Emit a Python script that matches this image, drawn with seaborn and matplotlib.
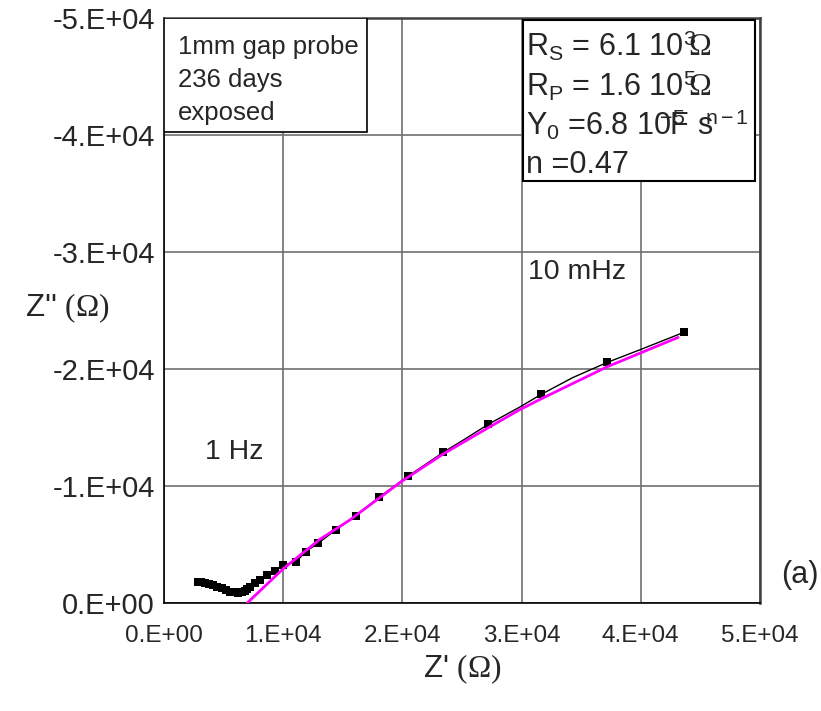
import numpy as np
import pandas as pd
import matplotlib
matplotlib.use("Agg")
import matplotlib.pyplot as plt
import seaborn as sns
from matplotlib.patches import Rectangle

# ---- data ----
zr_meas = [2870, 3100, 3430, 3750, 4130, 4480, 4830, 5200, 5530, 5900, 6220,
           6500, 6780, 7000, 7200, 7620, 8040, 8600, 9300, 9990, 11100, 11870,
           12920, 14400, 16080, 18030, 20490, 23430, 25350, 27200, 29800,
           31660, 34280, 37200, 39870, 43630]
zi_meas = [-1770, -1770, -1740, -1650, -1540, -1350, -1250, -1080, -970, -900,
           -880, -920, -1050, -1200, -1350, -1680, -1970, -2400, -2760, -3250,
           -3530, -4390, -5100, -6240, -7460, -9030, -10850, -12880, -14080,
           -15270, -16720, -17840, -19260, -20570, -21620, -23140]
marked = [1, 1, 1, 1, 1, 1, 1, 1, 1, 1, 1, 1, 1, 1, 1, 1, 1, 1, 1, 1, 1, 1,
          1, 1, 1, 1, 1, 1, 0, 1, 0, 1, 0, 1, 0, 1]

zr_fit = [6980, 8000, 9970, 13070, 15580, 19900, 23430, 27200, 29800, 31660,
          37200, 43130]
zi_fit = [0, -990, -2900, -5440, -7090, -10370, -12740, -14980, -16500,
          -17460, -20200, -22700]

x_ticks = [0, 10000, 20000, 30000, 40000, 50000]
x_ticklabels = ["0.E+00", "1.E+04", "2.E+04", "3.E+04", "4.E+04", "5.E+04"]
y_ticks = [0, -10000, -20000, -30000, -40000, -50000]
y_ticklabels = ["0.E+00", "-1.E+04", "-2.E+04", "-3.E+04", "-4.E+04", "-5.E+04"]

info_lines = [
    r"R$_\mathregular{S}$ = 6.1 10$^\mathregular{3}\!\!\mathrm{\Omega}$",
    r"R$_\mathregular{P}$ = 1.6 10$^\mathregular{5}\!\!\mathrm{\Omega}$",
    r"Y$_\mathregular{0}$ =6.8 10$\!\!\!^\mathregular{-5}\!\!\!\!$F s$\!\!^\mathregular{n-1}$",
    "n =0.47",
]
probe_lines = ["1mm gap probe", "236 days", "exposed"]

# ---- style ----
sns.set_theme(style="white")
plt.rcParams["font.family"] = ["Liberation Sans", "DejaVu Sans"]
plt.rcParams["mathtext.fontset"] = "custom"
plt.rcParams["mathtext.rm"] = "Liberation Serif"
plt.rcParams["mathtext.it"] = "Liberation Serif:italic"

fig = plt.figure(figsize=(8.21, 7.11), dpi=100)
ax = fig.add_axes([0.1998, 0.1519, 0.7259, 0.8228])

meas = pd.DataFrame({"zr": zr_meas, "zi": zi_meas, "m": marked})
fit = pd.DataFrame({"zr": zr_fit, "zi": zi_fit})

sns.lineplot(data=meas, x="zr", y="zi", sort=False, color="black",
             linewidth=1.0, ax=ax, zorder=3)
sns.scatterplot(data=meas[meas["m"] == 1], x="zr", y="zi", marker="s",
                s=30, color="black", edgecolor="black", linewidth=0,
                ax=ax, zorder=4)
sns.lineplot(data=fit, x="zr", y="zi", sort=False, color="#FF00FF",
             linewidth=2.0, ax=ax, zorder=5)

ax.set_xlim(0, 50000)
ax.set_ylim(0, -50000)
ax.set_xticks(x_ticks)
ax.set_xticklabels(x_ticklabels)
ax.set_yticks(y_ticks)
ax.set_yticklabels(y_ticklabels)
ax.tick_params(axis="both", which="major", direction="out", length=6,
               width=1, color="black", pad=3)
ax.tick_params(axis="x", labelsize=17.5, pad=10)
ax.tick_params(axis="y", labelsize=21, pad=0.5)

ax.grid(True, color="#707070", linewidth=1.2)
ax.set_axisbelow(True)
for side in ["left", "bottom"]:
    ax.spines[side].set_color("black")
    ax.spines[side].set_linewidth(1.2)
for side in ["top", "right"]:
    ax.spines[side].set_color("#404040")
    ax.spines[side].set_linewidth(1.8)

ax.set_xlabel(r"Z' $\mathrm{(\Omega)}$", fontsize=22.5, labelpad=4)
ax.set_ylabel(r"Z'' $\mathrm{(\Omega)}$", fontsize=22.5, rotation=0,
              ha="center", va="center")
ax.yaxis.set_label_coords(-0.163, 0.504)

# text boxes
ax.add_patch(Rectangle((0.0, 0.805), 0.34, 0.195, transform=ax.transAxes,
                       facecolor="white", edgecolor="black", linewidth=1.2,
                       zorder=6))
for i, t in enumerate(probe_lines):
    ax.text(0.023, 0.95 - i * 0.056, t, transform=ax.transAxes, fontsize=18.5,
            va="center", ha="left", zorder=7)

ax.add_patch(Rectangle((0.602, 0.721), 0.39, 0.276, transform=ax.transAxes,
                       facecolor="white", edgecolor="black", linewidth=1.5,
                       zorder=6))
for i, t in enumerate(info_lines):
    ax.text(0.607, 0.951 - i * 0.0672, t, transform=ax.transAxes, fontsize=22,
            va="center", ha="left", zorder=7)

ax.text(0.693, 0.566, "10 mHz", transform=ax.transAxes, fontsize=20.5,
        ha="center", va="center")
ax.text(0.117, 0.258, "1 Hz", transform=ax.transAxes, fontsize=20.5,
        ha="center", va="center")
fig.text(0.974, 0.191, "(a)", fontsize=22, ha="center", va="center")

fig.savefig("out.png", dpi=100)
